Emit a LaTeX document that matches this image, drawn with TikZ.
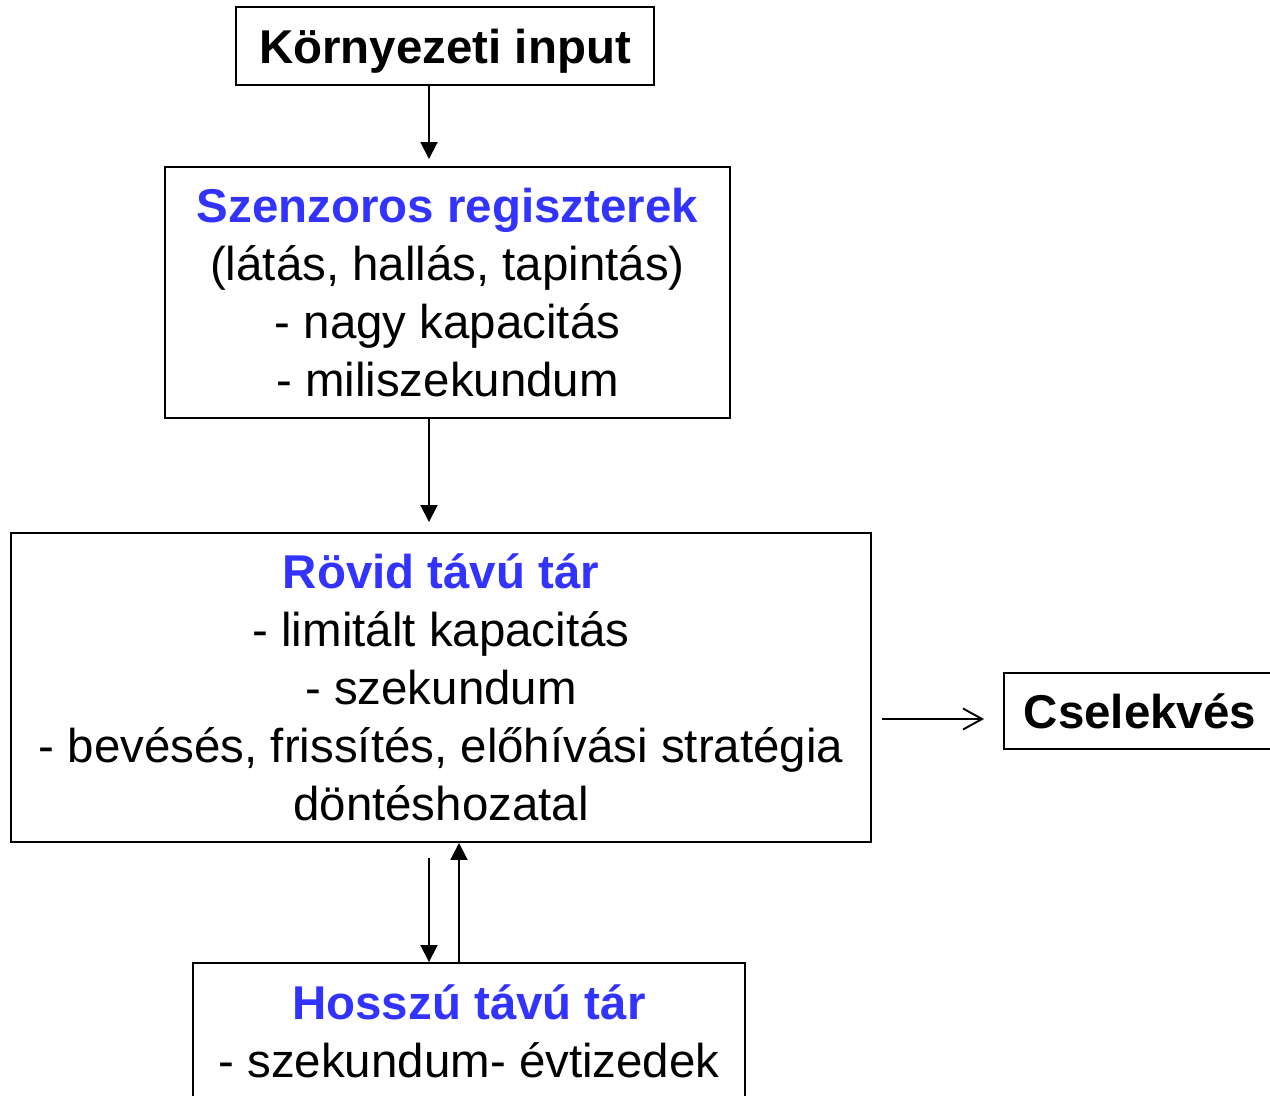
\documentclass[tikz,border=0pt]{standalone}
\usepackage{fontspec}
\setmainfont{Liberation Sans}
\usetikzlibrary{arrows.meta, positioning, calc}
\definecolor{titleblue}{RGB}{51, 51, 255}
\newcommand{\cim}[1]{\textbf{\textcolor{titleblue}{#1}}}

\begin{document}
\begin{tikzpicture}[
  box/.style={draw=black, line width=1.1pt, align=center, inner sep=0pt,
              font=\fontsize{27}{33}\selectfont},
  arr/.style={line width=1.1pt, -{Triangle[length=0.34cm, width=0.34cm]}},
  openarr/.style={line width=1.1pt, -{Straight Barb[length=0.38cm, width=0.42cm]}}
]
  \useasboundingbox (0,0) rectangle (25.4,-21.92);
  \clip (0,0) rectangle (25.4,-21.92);

  \node[box, minimum width=8.36cm, minimum height=1.56cm, text depth=0pt] (env) at (8.90, -0.92)
    {\textbf{Környezeti input}};
  \node[box, minimum width=11.3cm, minimum height=5.02cm] (szenz) at (8.95, -5.85)
    {\cim{Szenzoros regiszterek}\\(látás, hallás, tapintás)\\- nagy kapacitás\\- miliszekundum};
  \node[box, minimum width=17.2cm, minimum height=6.18cm] (rovid) at (8.82, -13.75)
    {\cim{Rövid távú tár}\\- limitált kapacitás\\- szekundum\\- bevésés, frissítés, előhívási stratégia\\döntéshozatal};
  \node[box, minimum width=5.44cm, minimum height=1.52cm] (cselek) at (22.80, -14.22)
    {\textbf{Cselekvés}};
  \node[box, minimum width=11.04cm, minimum height=2.72cm] (hosszu) at (9.38, -20.62)
    {\cim{Hosszú távú tár}\\- szekundum- évtizedek};

  % arrow columns
  \coordinate (down) at (8.58, 0);
  \coordinate (up)   at (9.18, 0);
  \coordinate (act)  at (0, -14.38);

  \draw[arr, shorten >=0.14cm] (down |- env.south) -- (down |- szenz.north);
  \draw[arr, shorten >=0.2cm]  (down |- szenz.south) -- (down |- rovid.north);
  \draw[arr, shorten <=0.3cm]  (down |- rovid.south) -- (down |- hosszu.north);
  \draw[arr] (up |- hosszu.north) -- (up |- rovid.south);
  \draw[openarr, shorten <=0.2cm, shorten >=0.38cm] (rovid.east |- act) -- (cselek.west |- act);
\end{tikzpicture}
\end{document}
